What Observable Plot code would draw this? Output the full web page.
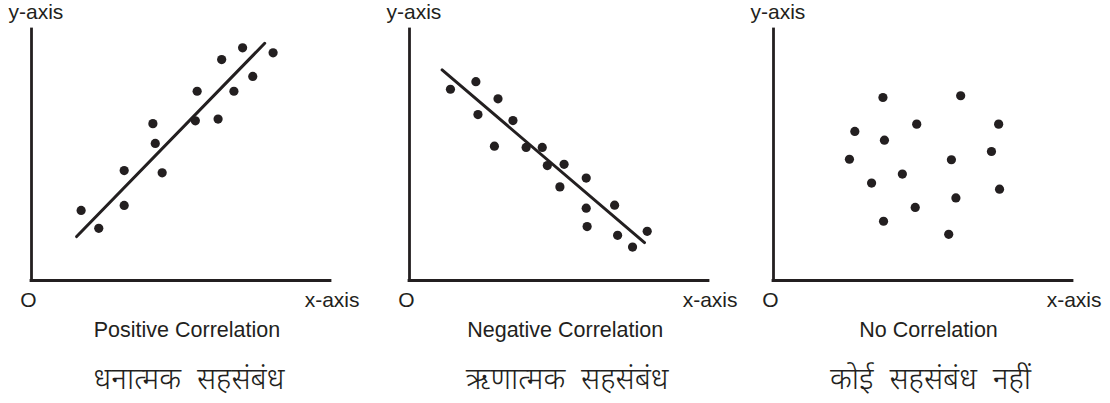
<!DOCTYPE html>
<html>
<head>
<meta charset="utf-8">
<script src="https://cdn.jsdelivr.net/npm/d3@7"></script>
<script src="https://cdn.jsdelivr.net/npm/@observablehq/plot@0.6"></script>
<style>
  html, body { margin: 0; padding: 0; background: #fff; }
  #root { position: relative; width: 1110px; height: 403px; overflow: hidden;
          font-family: "Liberation Sans", Arial, Helvetica, sans-serif; color: #231f20; }
  .panel { position: absolute; top: 0; width: 368px; height: 403px; }
  .panel svg { display: block; }
  .cap-en { position: absolute; top: 318px; left: 0; width: 368px; text-align: center;
            font-size: 21.5px; line-height: 24px; white-space: nowrap; }
  .cap-hi { position: absolute; top: 364px; left: 0; width: 368px; text-align: center;
            font-family: "Noto Sans Devanagari", "Lohit Devanagari", "Mangal", "FreeSans", "Noto Sans", sans-serif;
            font-size: 30px; font-weight: 300; line-height: 36px; white-space: nowrap; word-spacing: 8px; }
</style>
</head>
<body>
<div id="root"></div>
<script>
// ---- Data (abstract units: 0..10 on each axis) ----
const posX = [1.66, 2.25, 3.10, 3.10, 4.06, 4.14, 4.37, 5.54, 5.48, 6.24, 6.36, 6.77, 7.06, 7.40, 8.08];
const posY = [2.79, 2.08, 4.38, 2.99, 6.25, 5.46, 4.29, 7.54, 6.36, 6.43, 8.80, 7.54, 9.27, 8.13, 9.07];
const posLineX = [1.51, 7.80];
const posLineY = [1.75, 9.45];

const negX = [1.37, 2.22, 2.96, 2.29, 3.46, 2.84, 3.90, 4.44, 4.61, 5.17, 5.03, 5.91, 5.91, 5.94, 6.86, 6.96, 7.46, 7.95];
const negY = [7.62, 7.92, 7.24, 6.61, 6.37, 5.35, 5.30, 5.30, 4.58, 4.63, 3.73, 4.08, 2.88, 2.15, 3.00, 1.80, 1.33, 1.96];
const negLineX = [1.09, 7.86];
const negLineY = [8.39, 1.51];

const noneX = [3.66, 6.26, 2.72, 4.79, 7.53, 3.71, 2.54, 7.29, 5.95, 4.31, 3.28, 7.56, 6.10, 4.74, 3.68, 5.86];
const noneY = [7.29, 7.36, 5.94, 6.23, 6.23, 5.59, 4.83, 5.14, 4.81, 4.24, 3.88, 3.64, 3.29, 2.91, 2.36, 1.84];

const captionsEn = ["Positive Correlation", "Negative Correlation", "No Correlation"];
const captionsHi = ["धनात्मक सहसंबंध", "ऋणात्मक सहसंबंध", "कोई सहसंबंध नहीं"];
const axisLabels = {y: "y-axis", x: "x-axis", origin: "O"};

// ---- Build ----
const ink = "#231f20";
const panels = [
  {xs: posX, ys: posY, lx: posLineX, ly: posLineY, left: 0},
  {xs: negX, ys: negY, lx: negLineX, ly: negLineY, left: 378.2},
  {xs: noneX, ys: noneY, lx: null, ly: null, left: 741.5}
];

const root = document.getElementById("root");

panels.forEach((p, i) => {
  const pts = p.xs.map((x, j) => ({x, y: p.ys[j]}));
  const marks = [
    Plot.ruleX([0], {stroke: ink, strokeWidth: 2.8, strokeLinecap: "square"}),
    Plot.ruleY([0], {stroke: ink, strokeWidth: 2.8, strokeLinecap: "square"}),
  ];
  if (p.lx) {
    const ln = p.lx.map((x, j) => ({x, y: p.ly[j]}));
    marks.push(Plot.line(ln, {x: "x", y: "y", stroke: ink, strokeWidth: 3}));
  }
  marks.push(Plot.dot(pts, {x: "x", y: "y", r: 4.6, fill: ink, stroke: "none"}));
  marks.push(Plot.text([axisLabels.y], {text: d => d, frameAnchor: "top-left", dx: -23, dy: -10.5,
    textAnchor: "start", lineAnchor: "bottom", fontSize: 21, fill: ink}));
  marks.push(Plot.text([axisLabels.origin], {text: d => d, frameAnchor: "bottom-left", dx: -3, dy: 26.5,
    textAnchor: "middle", lineAnchor: "bottom", fontSize: 21, fill: ink}));
  marks.push(Plot.text([axisLabels.x], {text: d => d, frameAnchor: "bottom-right", dx: 29, dy: 26.5,
    textAnchor: "end", lineAnchor: "bottom", fontSize: 21, fill: ink}));

  const chart = Plot.plot({
    width: 368,
    height: 310,
    marginLeft: 31,
    marginRight: 38,
    marginTop: 29,
    marginBottom: 30,
    x: {domain: [0, 10], axis: null},
    y: {domain: [0, 10], axis: null},
    style: {fontFamily: "'Liberation Sans', Arial, Helvetica, sans-serif", background: "transparent", overflow: "visible"},
    marks
  });

  const div = document.createElement("div");
  div.className = "panel";
  div.style.left = p.left + "px";
  div.appendChild(chart);

  const en = document.createElement("div");
  en.className = "cap-en";
  en.style.left = "3px";
  en.textContent = captionsEn[i];
  div.appendChild(en);

  const hi = document.createElement("div");
  hi.className = "cap-hi";
  hi.style.left = "5px";
  hi.textContent = captionsHi[i];
  div.appendChild(hi);

  root.appendChild(div);
});
</script>
</body>
</html>
